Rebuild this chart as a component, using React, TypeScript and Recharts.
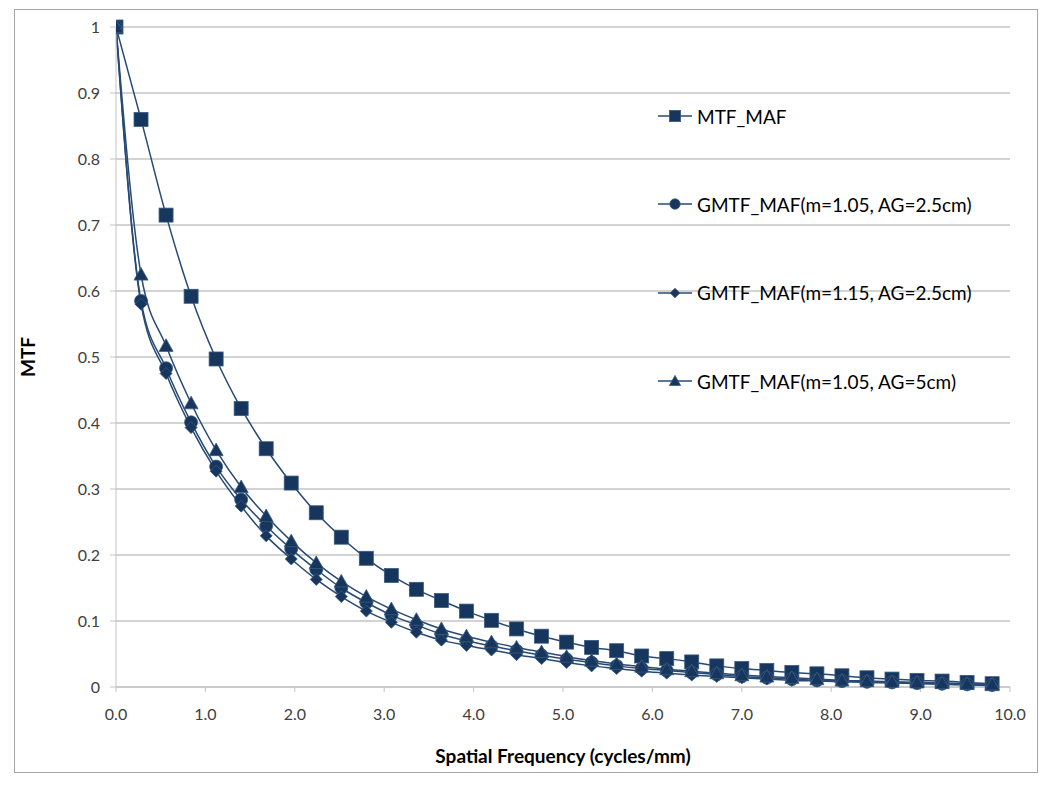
import React from "react";
import { LineChart, Line, XAxis, YAxis, CartesianGrid, Label } from "recharts";

const freq = [0, 0.28, 0.56, 0.84, 1.12, 1.4, 1.68, 1.96, 2.24, 2.52, 2.8, 3.08, 3.36, 3.64, 3.92, 4.2, 4.48, 4.76, 5.04, 5.32, 5.6, 5.88, 6.16, 6.44, 6.72, 7.0, 7.28, 7.56, 7.84, 8.12, 8.4, 8.68, 8.96, 9.24, 9.52, 9.8];

const mtfMaf = [1, 0.86, 0.715, 0.592, 0.497, 0.422, 0.361, 0.309, 0.264, 0.227, 0.195, 0.169, 0.148, 0.131, 0.115, 0.101, 0.088, 0.077, 0.068, 0.06, 0.055, 0.047, 0.043, 0.038, 0.032, 0.028, 0.025, 0.022, 0.02, 0.017, 0.014, 0.012, 0.01, 0.009, 0.007, 0.005];
const gmtf105_25 = [1, 0.585, 0.483, 0.401, 0.334, 0.284, 0.244, 0.209, 0.178, 0.15, 0.128, 0.109, 0.094, 0.08, 0.07, 0.062, 0.055, 0.048, 0.042, 0.037, 0.032, 0.028, 0.025, 0.022, 0.019, 0.016, 0.014, 0.012, 0.01, 0.009, 0.008, 0.007, 0.006, 0.005, 0.004, 0.003];
const gmtf115_25 = [1, 0.58, 0.475, 0.393, 0.327, 0.274, 0.229, 0.194, 0.163, 0.137, 0.115, 0.098, 0.083, 0.071, 0.063, 0.056, 0.049, 0.043, 0.037, 0.032, 0.028, 0.024, 0.021, 0.018, 0.016, 0.014, 0.012, 0.01, 0.009, 0.008, 0.007, 0.006, 0.005, 0.004, 0.003, 0.002];
const gmtf105_5 = [1, 0.625, 0.517, 0.43, 0.359, 0.303, 0.259, 0.221, 0.188, 0.16, 0.137, 0.118, 0.102, 0.088, 0.077, 0.068, 0.06, 0.053, 0.046, 0.04, 0.035, 0.031, 0.027, 0.024, 0.021, 0.018, 0.016, 0.014, 0.012, 0.01, 0.009, 0.008, 0.007, 0.006, 0.005, 0.004];

const seriesNames = [
  "MTF_MAF",
  "GMTF_MAF(m=1.05, AG=2.5cm)",
  "GMTF_MAF(m=1.15, AG=2.5cm)",
  "GMTF_MAF(m=1.05, AG=5cm)",
];
const seriesShapes = ["square", "circle", "diamond", "triangle"];

const xTicks = [0, 1, 2, 3, 4, 5, 6, 7, 8, 9, 10];
const yTicks = [0, 0.1, 0.2, 0.3, 0.4, 0.5, 0.6, 0.7, 0.8, 0.9, 1];

const data = freq.map((f, i) => ({
  f,
  s0: mtfMaf[i],
  s1: gmtf105_25[i],
  s2: gmtf115_25[i],
  s3: gmtf105_5[i],
}));

const LINE = "#274a74";
const MARK = "#17365d";
const FONT = "Lato, 'Open Sans', 'Liberation Sans', sans-serif";

function Marker({ shape, cx, cy, scale = 1 }: { shape: string; cx: number; cy: number; scale?: number }) {
  if (cx == null || cy == null || isNaN(cx) || isNaN(cy)) return null;
  if (shape === "square") {
    const h = 7 * scale;
    return <rect x={cx - h} y={cy - h} width={2 * h} height={2 * h} fill={MARK} stroke="#3a5a80" strokeWidth={0.8} />;
  }
  if (shape === "circle") {
    return <circle cx={cx} cy={cy} r={6.5 * scale} fill={MARK} stroke="#3a5a80" strokeWidth={0.8} />;
  }
  if (shape === "diamond") {
    const r = 6 * scale;
    return <polygon points={`${cx},${cy - r} ${cx + r},${cy} ${cx},${cy + r} ${cx - r},${cy}`} fill={MARK} stroke="#3a5a80" strokeWidth={0.8} />;
  }
  const r = 7 * scale;
  return <polygon points={`${cx},${cy - r} ${cx + r},${cy + r * 0.8} ${cx - r},${cy + r * 0.8}`} fill={MARK} stroke="#3a5a80" strokeWidth={0.8} />;
}

function makeDot(shape: string) {
  return (props: any) => <Marker key={`${shape}-${props.index}`} shape={shape} cx={props.cx} cy={props.cy} />;
}

function LegendBox() {
  return (
    <div style={{ position: "absolute", left: 658, top: 72, width: 380, fontFamily: FONT, fontSize: 19, color: "#000" }}>
      {seriesNames.map((n, i) => (
        <div key={n} style={{ height: 88.3, display: "flex", alignItems: "center" }}>
          <svg width={36} height={16} style={{ marginRight: 3 }}>
            <line x1={0} y1={8} x2={34} y2={8} stroke={LINE} strokeWidth={1.5} />
            <Marker shape={seriesShapes[i]} cx={17} cy={8} scale={0.8} />
          </svg>
          <span>{n}</span>
        </div>
      ))}
    </div>
  );
}

export default function App() {
  return (
    <div style={{ position: "absolute", left: 0, top: 0, width: 1050, height: 790, background: "#fff" }}>
      <div style={{ position: "absolute", left: 14, top: 9, width: 1024, height: 764, border: "1.5px solid #a6a6a6", boxSizing: "border-box" }} />
      <div style={{ position: "absolute", left: 0, top: 0 }}>
        <LineChart width={1050} height={790} data={data} margin={{ top: 27, right: 40, bottom: 0, left: 0 }}>
          <CartesianGrid vertical={false} stroke="#c4c4c4" strokeWidth={1.5} />
          <XAxis
            dataKey="f"
            type="number"
            domain={[0, 10]}
            ticks={xTicks}
            tickFormatter={(v: number) => v.toFixed(1)}
            height={103}
            stroke="#c4c4c4"
            tickSize={5}
            tickMargin={17}
            tick={{ fill: "#404040", fontSize: 16, fontFamily: FONT }}
            allowDataOverflow
          >
            <Label
              value="Spatial Frequency (cycles/mm)"
              position="insideBottom"
              offset={27}
              style={{ fontFamily: FONT, fontSize: 19, fontWeight: 700, fill: "#000" }}
            />
          </XAxis>
          <YAxis
            type="number"
            domain={[0, 1]}
            ticks={yTicks}
            tickFormatter={(v: number) => (v === 0 ? "0" : v === 1 ? "1" : v.toFixed(1))}
            width={116}
            stroke="#c4c4c4"
            tickSize={6}
            tickMargin={10}
            tick={{ fill: "#404040", fontSize: 16, fontFamily: FONT }}
          >
            <Label
              value="MTF"
              angle={-90}
              position="insideLeft"
              offset={28}
              style={{ fontFamily: FONT, fontSize: 19, fontWeight: 700, fill: "#000", textAnchor: "middle" }}
            />
          </YAxis>
          {["s0", "s1", "s2", "s3"].map((k, i) => (
            <Line
              key={k}
              dataKey={k}
              name={seriesNames[i]}
              type="monotone"
              stroke={LINE}
              strokeWidth={1.5}
              dot={makeDot(seriesShapes[i])}
              activeDot={false}
              isAnimationActive={false}
              legendType="none"
            />
          ))}
        </LineChart>
      </div>
      <LegendBox />
    </div>
  );
}
